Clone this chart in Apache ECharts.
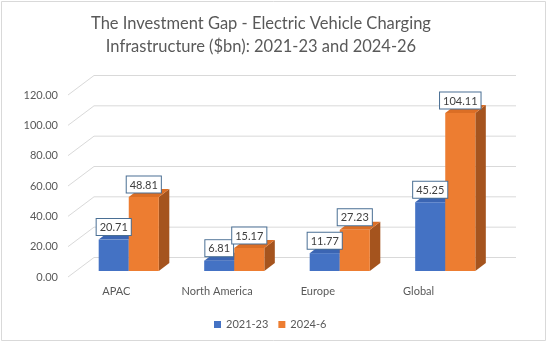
<!DOCTYPE html>
<html>
<head>
<meta charset="utf-8">
<script src="https://cdn.jsdelivr.net/npm/echarts@6/dist/echarts.min.js"></script>
<style>
  html, body { margin: 0; padding: 0; background: #fff; }
  #chart { width: 548px; height: 342px; }
</style>
</head>
<body>
<div id="chart"></div>
<script>
// Regions on the category axis
const categories = ['APAC', 'North America', 'Europe', 'Global'];
// Investment in $bn per period
const invest2021_23 = [20.71, 6.81, 11.77, 45.25];
const invest2024_6 = [48.81, 15.17, 27.23, 104.11];
const seriesNames = ['2021-23', '2024-6'];
// Value-axis ticks
const yTicks = [0, 20, 40, 60, 80, 100, 120];

const FONT = 'Lato, "Open Sans", sans-serif';
const TEXT = '#595959';

// 3D depth of a bar and of the back wall (pixels)
const BAR_DX = 10.5, BAR_DY = -8;
const WALL_FRONT_DX = -8, WALL_FRONT_DY = 6;
const WALL_BACK_DX = 18, WALL_BACK_DY = -13.5;

const palette = [
  { front: '#4472C4', top: '#3B65B3', side: '#2F5597' },
  { front: '#ED7D31', top: '#DB6E25', side: '#A5541E' }
];

function barRenderer(idx) {
  const c = palette[idx];
  return function (params, api) {
    const cat = api.value(0), val = api.value(1);
    const top = api.coord([cat, val]);
    const base = api.coord([cat, 0]);
    const band = api.size([1, 0])[0];
    const w = band * 0.285;
    const x0 = idx === 0 ? top[0] - w : top[0];
    const x1 = x0 + w;
    const yt = top[1], yb = base[1];
    return {
      type: 'group',
      children: [
        { type: 'polygon', shape: { points: [[x1, yt], [x1 + BAR_DX, yt + BAR_DY], [x1 + BAR_DX, yb + BAR_DY], [x1, yb]] },
          style: { fill: c.side } },
        { type: 'polygon', shape: { points: [[x0, yt], [x0 + BAR_DX, yt + BAR_DY], [x1 + BAR_DX, yt + BAR_DY], [x1, yt]] },
          style: { fill: c.top } },
        { type: 'rect', shape: { x: x0, y: yt, width: w, height: yb - yt }, style: { fill: c.front } },
        { type: 'text', z2: 100,
          style: {
            text: val.toFixed(2), x: (x0 + x1) / 2, y: yt - 4.5,
            align: 'center', verticalAlign: 'bottom',
            font: '11px ' + FONT, fill: '#404040',
            backgroundColor: '#fff', borderColor: '#4A6F94', borderWidth: 1,
            padding: [3, 3, 2, 3]
          } }
      ]
    };
  };
}

// Back wall gridlines with the slanted left side wall
function wallRenderer(params, api) {
  const v = api.value(0);
  const p = api.coord([0, v]);
  const cs = params.coordSys;
  const y = p[1];
  const fx = cs.x + WALL_FRONT_DX, fy = y + WALL_FRONT_DY;
  const bx = cs.x + WALL_BACK_DX, by = y + WALL_BACK_DY;
  const ex = cs.x + cs.width + WALL_BACK_DX;
  return {
    type: 'polyline',
    shape: { points: [[fx, fy], [bx, by], [ex, by]] },
    style: { stroke: '#D9D9D9', lineWidth: 1, fill: null }
  };
}

const chart = echarts.init(document.getElementById('chart'), null, { renderer: 'canvas' });

chart.setOption({
  backgroundColor: '#fff',
  animation: false,
  graphic: [
    {
      type: 'rect', shape: { x: 1.5, y: 1.5, width: 544, height: 339 },
      style: { fill: null, stroke: '#D9D9D9', lineWidth: 1 }, silent: true
    },
    {
      type: 'text', x: 261, y: 12, silent: true,
      style: {
        text: 'The Investment Gap - Electric Vehicle Charging\nInfrastructure ($bn): 2021-23 and 2024-26',
        align: 'center', verticalAlign: 'top',
        font: '16.5px ' + FONT, fill: TEXT, lineHeight: 23
      }
    }
  ],
  legend: {
    data: seriesNames,
    top: 314, left: 209,
    icon: 'rect', itemWidth: 7, itemHeight: 7, itemGap: 10,
    textStyle: { fontFamily: FONT, fontSize: 11, color: TEXT }
  },
  grid: [
    // front plane: axis labels
    { left: 66, right: 79, top: 95, bottom: 65 },
    // bar plane
    { left: 76, right: 50, top: 89, bottom: 71 }
  ],
  xAxis: [
    { type: 'category', gridIndex: 0, data: categories,
      axisLine: { show: false }, axisTick: { show: false },
      axisLabel: { margin: 9, fontFamily: FONT, fontSize: 11, color: TEXT } },
    { type: 'category', gridIndex: 1, data: categories, show: false }
  ],
  yAxis: [
    { type: 'value', gridIndex: 0, min: 0, max: 120, interval: 20,
      axisLine: { show: false }, axisTick: { show: false }, splitLine: { show: false },
      axisLabel: { margin: 8, fontFamily: FONT, fontSize: 11, color: TEXT,
        formatter: v => v.toFixed(2) } },
    { type: 'value', gridIndex: 1, min: 0, max: 120, interval: 20, show: false, splitLine: { show: false } }
  ],
  series: [
    { type: 'custom', name: 'wall', xAxisIndex: 1, yAxisIndex: 1, z: 1, silent: true,
      renderItem: wallRenderer, data: yTicks.map(v => [v]), encode: { y: 0 } },
    { type: 'custom', name: seriesNames[0], xAxisIndex: 1, yAxisIndex: 1, z: 2,
      itemStyle: { color: palette[0].front },
      renderItem: barRenderer(0), data: categories.map((c, i) => [i, invest2021_23[i]]), encode: { x: 0, y: 1 } },
    { type: 'custom', name: seriesNames[1], xAxisIndex: 1, yAxisIndex: 1, z: 2,
      itemStyle: { color: palette[1].front },
      renderItem: barRenderer(1), data: categories.map((c, i) => [i, invest2024_6[i]]), encode: { x: 0, y: 1 } }
  ]
});
</script>
</body>
</html>
